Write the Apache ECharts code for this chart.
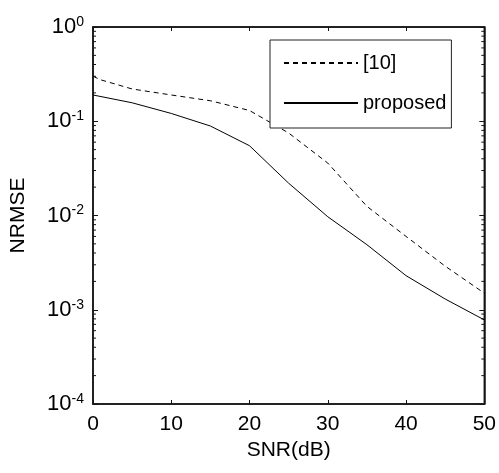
<!DOCTYPE html>
<html style="height: 100%">
<head>
    <meta charset="utf-8">
    <script src="https://cdn.jsdelivr.net/npm/echarts@6/dist/echarts.min.js"></script>
</head>
<body style="height: 100%; margin: 0; background: #fff">
    <div id="container" style="width: 499px; height: 473px"></div>
    <script type="text/javascript">
        // SNR (dB) and NRMSE
        const snrRef = [0, 1, 5, 10, 15, 20, 25, 30, 35, 40, 45, 50];
        const nrmseRef = [0.30, 0.275, 0.22, 0.19, 0.165, 0.13, 0.075, 0.036, 0.0125, 0.006, 0.0029, 0.0015];
        const snrProp = [0, 5, 10, 15, 20, 25, 30, 35, 40, 45, 50];
        const nrmseProp = [0.19, 0.157, 0.121, 0.089, 0.055, 0.022, 0.0097, 0.0049, 0.0023, 0.0013, 0.00078];

        const seriesNames = ['[10]', 'proposed'];
        const xTicks = [0, 10, 20, 30, 40, 50];
        const yDecades = [1e-4, 1e-3, 1e-2, 1e-1, 1];

        // minor ticks 2..9 inside each decade
        let minorTicks = [];
        for (let i = 0; i < yDecades.length - 1; i++) {
            for (let k = 2; k <= 9; k++) {
                minorTicks.push(yDecades[i] * k);
            }
        }

        const font = 'Liberation Sans, Arial, sans-serif';
        const ink = 'rgb(20,20,20)';

        let dom = document.getElementById('container');
        let myChart = echarts.init(dom, null, { renderer: 'canvas' });

        function axisLine() {
            return { show: true, onZero: false, lineStyle: { color: ink, width: 1.5 } };
        }
        function axisTick(len) {
            return { show: true, inside: true, length: len, lineStyle: { color: ink, width: 1 } };
        }

        let option = {
            animation: false,
            backgroundColor: '#fff',
            grid: {
                left: 93, top: 27, right: 13, bottom: 69, containLabel: false,
                show: true, borderColor: ink, borderWidth: 1.5, backgroundColor: 'transparent'
            },
            legend: {
                data: seriesNames,
                orient: 'vertical',
                left: 270,
                top: 40,
                padding: [13, 5, 15, 13],
                itemWidth: 74,
                itemHeight: 14,
                itemGap: 20,
                borderColor: '#222',
                borderWidth: 1,
                backgroundColor: '#fff',
                itemStyle: { opacity: 0 },
                textStyle: { fontFamily: font, fontSize: 20, color: '#000', width: 108 }
            },
            xAxis: [
                {
                    type: 'value',
                    min: xTicks[0],
                    max: xTicks[xTicks.length - 1],
                    interval: 10,
                    position: 'bottom',
                    axisLine: axisLine(),
                    axisTick: axisTick(4),
                    splitLine: { show: false },
                    axisLabel: { fontFamily: font, fontSize: 21, color: '#000', margin: 10 },
                    name: 'SNR(dB)',
                    nameLocation: 'middle',
                    nameGap: 34,
                    nameTextStyle: { fontFamily: font, fontSize: 21, color: '#000' }
                },
                {
                    type: 'value',
                    min: xTicks[0],
                    max: xTicks[xTicks.length - 1],
                    interval: 10,
                    position: 'top',
                    axisLine: axisLine(),
                    axisTick: axisTick(4),
                    splitLine: { show: false },
                    axisLabel: { show: false }
                }
            ],
            yAxis: [
                {
                    type: 'log',
                    logBase: 10,
                    min: yDecades[0],
                    max: yDecades[yDecades.length - 1],
                    position: 'left',
                    axisLine: axisLine(),
                    axisTick: axisTick(5),
                    splitLine: { show: false },
                    axisLabel: {
                        margin: 9,
                        formatter: function (value) {
                            let e = Math.round(Math.log10(value));
                            return '{b|10}{s|' + e + '}';
                        },
                        rich: {
                            b: { fontFamily: font, fontSize: 22, color: '#000', lineHeight: 24 },
                            s: { fontFamily: font, fontSize: 14, color: '#000', lineHeight: 10, verticalAlign: 'top' }
                        }
                    },
                    name: 'NRMSE',
                    nameLocation: 'middle',
                    nameGap: 64,
                    nameTextStyle: { fontFamily: font, fontSize: 21, color: '#000' }
                },
                {
                    type: 'log',
                    logBase: 10,
                    min: yDecades[0],
                    max: yDecades[yDecades.length - 1],
                    position: 'right',
                    axisLine: axisLine(),
                    axisTick: axisTick(5),
                    splitLine: { show: false },
                    axisLabel: { show: false }
                }
            ],
            series: [
                {
                    name: seriesNames[0],
                    type: 'line',
                    symbol: 'none',
                    xAxisIndex: 0,
                    yAxisIndex: 0,
                    lineStyle: { color: '#000', width: 1, type: [5, 4] },
                    itemStyle: { color: '#000' },
                    data: snrRef.map((x, i) => [x, nrmseRef[i]])
                },
                {
                    name: seriesNames[1],
                    type: 'line',
                    symbol: 'none',
                    xAxisIndex: 0,
                    yAxisIndex: 0,
                    lineStyle: { color: '#000', width: 1 },
                    itemStyle: { color: '#000' },
                    data: snrProp.map((x, i) => [x, nrmseProp[i]])
                },
                {
                    // minor log ticks on both sides
                    type: 'custom',
                    silent: true,
                    xAxisIndex: 0,
                    yAxisIndex: 0,
                    data: minorTicks.map(v => [0, v]),
                    renderItem: function (params, api) {
                        let v = api.value(1);
                        let l = api.coord([xTicks[0], v]);
                        let r = api.coord([xTicks[xTicks.length - 1], v]);
                        let style = { stroke: ink, lineWidth: 1 };
                        return {
                            type: 'group',
                            children: [
                                { type: 'line', shape: { x1: l[0], y1: l[1], x2: l[0] + 3, y2: l[1] }, style: style },
                                { type: 'line', shape: { x1: r[0], y1: r[1], x2: r[0] - 3, y2: r[1] }, style: style }
                            ]
                        };
                    }
                }
            ]
        };

        myChart.setOption(option);
        window.addEventListener('resize', myChart.resize);
    </script>
</body>
</html>
